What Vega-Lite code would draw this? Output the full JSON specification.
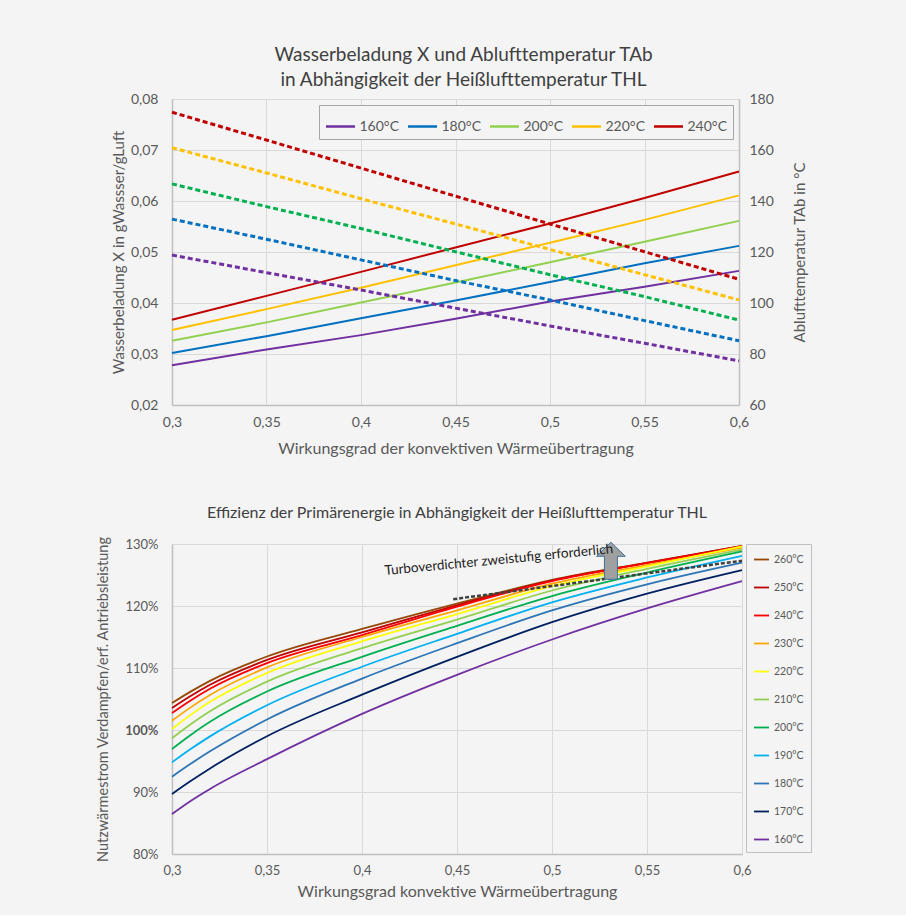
{
  "$schema": "https://vega.github.io/schema/vega-lite/v6.json",
  "padding": {"left": 95, "top": 46, "right": 94, "bottom": 16},
  "spacing": 49,
  "resolve": {"scale": {"color": "independent", "strokeWidth": "independent"}, "legend": {"color": "independent", "strokeWidth": "independent"}},
  "datasets": {
    "top": [
      {"x": 0.3, "T": "160°C", "X": 0.0278, "TAb": 118.8},
      {"x": 0.35, "T": "160°C", "X": 0.0309, "TAb": 111.9},
      {"x": 0.4, "T": "160°C", "X": 0.0337, "TAb": 105.1},
      {"x": 0.45, "T": "160°C", "X": 0.0369, "TAb": 98.0},
      {"x": 0.5, "T": "160°C", "X": 0.0403, "TAb": 91.0},
      {"x": 0.55, "T": "160°C", "X": 0.0432, "TAb": 84.2},
      {"x": 0.6, "T": "160°C", "X": 0.0463, "TAb": 77.3},
      {"x": 0.3, "T": "180°C", "X": 0.0302, "TAb": 132.9},
      {"x": 0.35, "T": "180°C", "X": 0.0335, "TAb": 125.0},
      {"x": 0.4, "T": "180°C", "X": 0.037, "TAb": 116.9},
      {"x": 0.45, "T": "180°C", "X": 0.0405, "TAb": 108.8},
      {"x": 0.5, "T": "180°C", "X": 0.0441, "TAb": 101.2},
      {"x": 0.55, "T": "180°C", "X": 0.0478, "TAb": 93.1},
      {"x": 0.6, "T": "180°C", "X": 0.0512, "TAb": 85.2},
      {"x": 0.3, "T": "200°C", "X": 0.0326, "TAb": 146.7},
      {"x": 0.35, "T": "200°C", "X": 0.0362, "TAb": 137.8},
      {"x": 0.4, "T": "200°C", "X": 0.0401, "TAb": 129.2},
      {"x": 0.45, "T": "200°C", "X": 0.044, "TAb": 120.1},
      {"x": 0.5, "T": "200°C", "X": 0.048, "TAb": 111.1},
      {"x": 0.55, "T": "200°C", "X": 0.052, "TAb": 102.5},
      {"x": 0.6, "T": "200°C", "X": 0.0561, "TAb": 93.3},
      {"x": 0.3, "T": "220°C", "X": 0.0347, "TAb": 160.9},
      {"x": 0.35, "T": "220°C", "X": 0.0388, "TAb": 151.0},
      {"x": 0.4, "T": "220°C", "X": 0.043, "TAb": 140.9},
      {"x": 0.45, "T": "220°C", "X": 0.0474, "TAb": 131.0},
      {"x": 0.5, "T": "220°C", "X": 0.0518, "TAb": 121.0},
      {"x": 0.55, "T": "220°C", "X": 0.0563, "TAb": 111.1},
      {"x": 0.6, "T": "220°C", "X": 0.0611, "TAb": 101.2},
      {"x": 0.3, "T": "240°C", "X": 0.0367, "TAb": 174.8},
      {"x": 0.35, "T": "240°C", "X": 0.0414, "TAb": 163.9},
      {"x": 0.4, "T": "240°C", "X": 0.0461, "TAb": 152.9},
      {"x": 0.45, "T": "240°C", "X": 0.0509, "TAb": 141.9},
      {"x": 0.5, "T": "240°C", "X": 0.0556, "TAb": 131.0},
      {"x": 0.55, "T": "240°C", "X": 0.0606, "TAb": 120.1},
      {"x": 0.6, "T": "240°C", "X": 0.0658, "TAb": 109.3}
    ],
    "bottom": [
      {"x": 0.3, "T": "260°C", "v": 104.35}, {"x": 0.31, "T": "260°C", "v": 106.23}, {"x": 0.32, "T": "260°C", "v": 107.93}, {"x": 0.35, "T": "260°C", "v": 111.85}, {"x": 0.4, "T": "260°C", "v": 116.3}, {"x": 0.45, "T": "260°C", "v": 120.4}, {"x": 0.5, "T": "260°C", "v": 124.2}, {"x": 0.55, "T": "260°C", "v": 127.0}, {"x": 0.6, "T": "260°C", "v": 129.7},
      {"x": 0.3, "T": "250°C", "v": 103.55}, {"x": 0.31, "T": "250°C", "v": 105.52}, {"x": 0.32, "T": "250°C", "v": 107.29}, {"x": 0.35, "T": "250°C", "v": 111.3}, {"x": 0.4, "T": "250°C", "v": 115.75}, {"x": 0.45, "T": "250°C", "v": 120.1}, {"x": 0.5, "T": "250°C", "v": 124.1}, {"x": 0.55, "T": "250°C", "v": 126.95}, {"x": 0.6, "T": "250°C", "v": 129.7},
      {"x": 0.3, "T": "240°C", "v": 102.74}, {"x": 0.31, "T": "240°C", "v": 104.81}, {"x": 0.32, "T": "240°C", "v": 106.66}, {"x": 0.35, "T": "240°C", "v": 110.8}, {"x": 0.4, "T": "240°C", "v": 115.3}, {"x": 0.45, "T": "240°C", "v": 119.9}, {"x": 0.5, "T": "240°C", "v": 124.0}, {"x": 0.55, "T": "240°C", "v": 126.9}, {"x": 0.6, "T": "240°C", "v": 129.6},
      {"x": 0.3, "T": "230°C", "v": 101.5}, {"x": 0.31, "T": "230°C", "v": 103.69}, {"x": 0.32, "T": "230°C", "v": 105.65}, {"x": 0.35, "T": "230°C", "v": 110.1}, {"x": 0.4, "T": "230°C", "v": 115.0}, {"x": 0.45, "T": "230°C", "v": 119.3}, {"x": 0.5, "T": "230°C", "v": 123.6}, {"x": 0.55, "T": "230°C", "v": 126.6}, {"x": 0.6, "T": "230°C", "v": 129.4},
      {"x": 0.3, "T": "220°C", "v": 100.16}, {"x": 0.31, "T": "220°C", "v": 102.48}, {"x": 0.32, "T": "220°C", "v": 104.54}, {"x": 0.35, "T": "220°C", "v": 109.2}, {"x": 0.4, "T": "220°C", "v": 114.3}, {"x": 0.45, "T": "220°C", "v": 118.7}, {"x": 0.5, "T": "220°C", "v": 123.2}, {"x": 0.55, "T": "220°C", "v": 126.4}, {"x": 0.6, "T": "220°C", "v": 129.6},
      {"x": 0.3, "T": "210°C", "v": 98.66}, {"x": 0.31, "T": "210°C", "v": 100.96}, {"x": 0.32, "T": "210°C", "v": 103.02}, {"x": 0.35, "T": "210°C", "v": 107.8}, {"x": 0.4, "T": "210°C", "v": 113.2}, {"x": 0.45, "T": "210°C", "v": 117.8}, {"x": 0.5, "T": "210°C", "v": 122.5}, {"x": 0.55, "T": "210°C", "v": 126.0}, {"x": 0.6, "T": "210°C", "v": 129.1},
      {"x": 0.3, "T": "200°C", "v": 96.94}, {"x": 0.31, "T": "200°C", "v": 99.24}, {"x": 0.32, "T": "200°C", "v": 101.32}, {"x": 0.35, "T": "200°C", "v": 106.2}, {"x": 0.4, "T": "200°C", "v": 111.8}, {"x": 0.45, "T": "200°C", "v": 116.8}, {"x": 0.5, "T": "200°C", "v": 121.6}, {"x": 0.55, "T": "200°C", "v": 125.4}, {"x": 0.6, "T": "200°C", "v": 128.8},
      {"x": 0.3, "T": "190°C", "v": 94.78}, {"x": 0.31, "T": "190°C", "v": 96.96}, {"x": 0.32, "T": "190°C", "v": 98.97}, {"x": 0.35, "T": "190°C", "v": 104.0}, {"x": 0.4, "T": "190°C", "v": 110.2}, {"x": 0.45, "T": "190°C", "v": 115.5}, {"x": 0.5, "T": "190°C", "v": 120.6}, {"x": 0.55, "T": "190°C", "v": 124.6}, {"x": 0.6, "T": "190°C", "v": 128.1},
      {"x": 0.3, "T": "180°C", "v": 92.47}, {"x": 0.31, "T": "180°C", "v": 94.58}, {"x": 0.32, "T": "180°C", "v": 96.56}, {"x": 0.35, "T": "180°C", "v": 101.7}, {"x": 0.4, "T": "180°C", "v": 108.3}, {"x": 0.45, "T": "180°C", "v": 114.0}, {"x": 0.5, "T": "180°C", "v": 119.3}, {"x": 0.55, "T": "180°C", "v": 123.5}, {"x": 0.6, "T": "180°C", "v": 127.0},
      {"x": 0.3, "T": "170°C", "v": 89.68}, {"x": 0.31, "T": "170°C", "v": 91.8}, {"x": 0.32, "T": "170°C", "v": 93.8}, {"x": 0.35, "T": "170°C", "v": 99.0}, {"x": 0.4, "T": "170°C", "v": 105.7}, {"x": 0.45, "T": "170°C", "v": 111.8}, {"x": 0.5, "T": "170°C", "v": 117.4}, {"x": 0.55, "T": "170°C", "v": 122.0}, {"x": 0.6, "T": "170°C", "v": 125.8},
      {"x": 0.3, "T": "160°C", "v": 86.45}, {"x": 0.31, "T": "160°C", "v": 88.6}, {"x": 0.32, "T": "160°C", "v": 90.5}, {"x": 0.35, "T": "160°C", "v": 95.3}, {"x": 0.4, "T": "160°C", "v": 102.6}, {"x": 0.45, "T": "160°C", "v": 108.9}, {"x": 0.5, "T": "160°C", "v": 114.6}, {"x": 0.55, "T": "160°C", "v": 119.6}, {"x": 0.6, "T": "160°C", "v": 124.0}
    ],
    "turbo": [{"x": 0.448, "v": 121.1}, {"x": 0.6, "v": 127.3}],
    "arrow": [{"x": 0.531, "v": 127.3}],
    "note": [{"x": 0.472, "v": 127.4, "label": "Turboverdichter  zweistufig erforderlich"}]
  },
  "vconcat": [
    {
      "width": 567,
      "height": 306,
      "title": {
        "text": ["Wasserbeladung X und Ablufttemperatur TAb", "in Abhängigkeit der Heißlufttemperatur THL"],
        "fontSize": 19, "fontWeight": "normal", "color": "#404040", "font": "Lato",
        "anchor": "middle", "offset": 2, "lineHeight": 25, "dx": 8
      },
      "data": {"name": "top"},
      "layer": [
        {
          "mark": {"type": "line", "strokeWidth": 2},
          "encoding": {
            "x": {"field": "x", "type": "quantitative", "scale": {"domain": [0.3, 0.6], "nice": false, "zero": false},
              "axis": {"values": [0.3, 0.35, 0.4, 0.45, 0.5, 0.55, 0.6], "labelExpr": "replace(format(datum.value, '.2~f'), '.', ',')", "labelFlush": false,
                "title": "Wirkungsgrad der konvektiven Wärmeübertragung", "labelFontSize": 14, "titleFontSize": 16, "labelPadding": 10, "titlePadding": 11}},
            "y": {"field": "X", "type": "quantitative", "scale": {"domain": [0.02, 0.08], "nice": false, "zero": false},
              "axis": {"values": [0.02, 0.03, 0.04, 0.05, 0.06, 0.07, 0.08], "labelExpr": "replace(format(datum.value, '.2f'), '.', ',')",
                "title": "Wasserbeladung X in gWassser/gLuft", "labelFontSize": 14, "titleFontSize": 15, "labelPadding": 14, "minExtent": 46, "maxExtent": 46, "titlePadding": 0}},
            "color": {"field": "T", "type": "nominal",
              "scale": {"domain": ["160°C", "180°C", "200°C", "220°C", "240°C"], "range": ["#7030A0", "#0070C0", "#92D050", "#FFC000", "#C00000"]},
              "legend": {"title": null, "orient": "top-right", "direction": "horizontal", "columns": 5, "offset": 6,
                "symbolType": "stroke", "symbolSize": 841, "symbolStrokeWidth": 2.5, "labelFontSize": 14, "labelColor": "#595959",
                "strokeColor": "#a6a6a6", "fillColor": "#f4f4f4", "padding": 5.5, "columnPadding": 3, "labelOffset": 3}}
          }
        },
        {
          "mark": {"type": "line", "strokeWidth": 3, "strokeDash": [5, 3]},
          "encoding": {
            "x": {"field": "x", "type": "quantitative"},
            "y": {"field": "TAb", "type": "quantitative", "scale": {"domain": [60, 180], "nice": false, "zero": false},
              "axis": {"orient": "right", "grid": false, "values": [60, 80, 100, 120, 140, 160, 180], "title": "Ablufttemperatur TAb in °C",
                "titleAngle": 270, "labelFontSize": 14, "titleFontSize": 15, "labelPadding": 10, "titlePadding": 34}},
            "color": {"field": "T", "type": "nominal",
              "scale": {"domain": ["160°C", "180°C", "200°C", "220°C", "240°C"], "range": ["#7030A0", "#0070C0", "#00B050", "#FFC000", "#C00000"]},
              "legend": null}
          }
        }
      ],
      "resolve": {"scale": {"y": "independent", "color": "independent"}}
    },
    {
      "width": 570,
      "height": 310,
      "title": {
        "text": "Effizienz der Primärenergie in Abhängigkeit der Heißlufttemperatur THL",
        "fontSize": 16, "fontWeight": "normal", "color": "#404040", "font": "Lato", "anchor": "middle", "offset": 15
      },
      "layer": [
        {
          "data": {"name": "bottom"},
          "mark": {"type": "line", "interpolate": "monotone"},
          "encoding": {
            "x": {"field": "x", "type": "quantitative", "scale": {"domain": [0.3, 0.6], "nice": false, "zero": false},
              "axis": {"values": [0.3, 0.35, 0.4, 0.45, 0.5, 0.55, 0.6], "labelExpr": "replace(format(datum.value, '.2~f'), '.', ',')", "labelFlush": false,
                "title": "Wirkungsgrad konvektive Wärmeübertragung", "labelFontSize": 13, "titleFontSize": 16, "labelPadding": 10, "titlePadding": 6}},
            "y": {"field": "v", "type": "quantitative", "scale": {"domain": [80, 130], "nice": false, "zero": false},
              "axis": {"values": [80, 85, 90, 95, 100, 105, 110, 115, 120, 125, 130], "labelExpr": "datum.value + '%'",
                "labelFontWeight": {"condition": {"test": "datum.value == 100", "value": "bold"}, "value": "normal"},
                "title": "Nutzwärmestrom Verdampfen/erf. Antriebsleistung", "labelFontSize": 13, "titleFontSize": 14.5, "labelPadding": 14, "minExtent": 46, "maxExtent": 46, "titlePadding": 16}},
            "color": {"field": "T", "type": "nominal",
              "scale": {"domain": ["260°C", "250°C", "240°C", "230°C", "220°C", "210°C", "200°C", "190°C", "180°C", "170°C", "160°C"],
                "range": ["#984807", "#C00000", "#FF0000", "#FFA500", "#FFFF00", "#92D050", "#00B050", "#00B0F0", "#2E75B6", "#002060", "#7030A0"]},
              "legend": {"title": null, "orient": "right", "offset": 0, "symbolType": "stroke", "symbolSize": 225, "labelFontSize": 10.5, "labelColor": "#595959",
                "strokeColor": "#bfbfbf", "padding": 7, "rowPadding": 14, "labelOffset": 4}},
            "strokeWidth": {"field": "T", "type": "nominal",
              "scale": {"domain": ["260°C", "250°C", "240°C", "230°C", "220°C", "210°C", "200°C", "190°C", "180°C", "170°C", "160°C"],
                "range": [1.8, 1.8, 1.8, 1.8, 1.8, 1.8, 1.8, 1.8, 1.8, 1.8, 3]},
              "legend": {"title": null, "orient": "right", "offset": 0, "symbolType": "stroke", "symbolSize": 225, "labelFontSize": 10.5, "labelColor": "#595959",
                "strokeColor": "#bfbfbf", "padding": 7, "rowPadding": 14, "labelOffset": 4}}
          }
        },
        {
          "mark": {"type": "rule", "color": "#000000", "strokeWidth": 2.2},
          "encoding": {"y": {"datum": 100}}
        },
        {
          "data": {"name": "turbo"},
          "mark": {"type": "line", "color": "#404040", "strokeWidth": 2.5, "strokeDash": [4, 2]},
          "encoding": {"x": {"field": "x", "type": "quantitative"}, "y": {"field": "v", "type": "quantitative"}}
        },
        {
          "data": {"name": "arrow"},
          "mark": {"type": "point", "filled": true, "fill": "#A0A0A0", "stroke": "#41719C", "strokeWidth": 1, "opacity": 1,
            "shape": "M0,-1L0.78,-0.24L0.35,-0.24L0.35,1L-0.35,1L-0.35,-0.24L-0.78,-0.24Z", "size": 1369},
          "encoding": {"x": {"field": "x", "type": "quantitative"}, "y": {"field": "v", "type": "quantitative"}}
        },
        {
          "data": {"name": "note"},
          "mark": {"type": "text", "angle": 354.5, "fontSize": 13.5, "font": "Lato", "color": "#222222"},
          "encoding": {"x": {"field": "x", "type": "quantitative"}, "y": {"field": "v", "type": "quantitative"}, "text": {"field": "label"}}
        }
      ]
    }
  ],
  "config": {
    "background": "#f4f4f4",
    "view": {"stroke": null},
    "font": "Lato",
    "axis": {"gridColor": "#d9d9d9", "labelColor": "#595959", "titleColor": "#595959", "domainColor": "#bfbfbf", "domainWidth": 1.5, "ticks": false,
      "labelFont": "Lato", "titleFont": "Lato", "titleFontWeight": "normal"},
    "legend": {"labelFont": "Lato"}
  }
}
